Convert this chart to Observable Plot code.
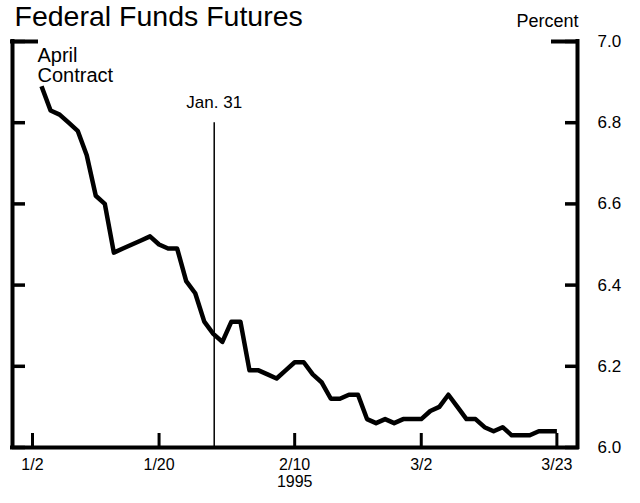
<!DOCTYPE html>
<html>
<head>
<meta charset="utf-8">
<script src="https://cdn.jsdelivr.net/npm/d3@7"></script>
<script src="https://cdn.jsdelivr.net/npm/@observablehq/plot@0.6"></script>
<style>
  body { margin: 0; background: #fff; }
  #chart { width: 640px; height: 503px; }
</style>
</head>
<body>
<div id="chart"></div>
<script>
// ---- Data ----
const title = "Federal Funds Futures";
const unitLabel = "Percent";
const seriesLabel = "April\nContract";

// business days, 1995 (MM-DD)
const dates = [
  "01-03","01-04","01-05","01-06","01-09","01-10","01-11","01-12","01-13",
  "01-16","01-17","01-18","01-19","01-20","01-23","01-24","01-25","01-26","01-27",
  "01-30","01-31","02-01","02-02","02-03","02-06","02-07","02-08","02-09","02-10",
  "02-13","02-14","02-15","02-16","02-17","02-20","02-21","02-22","02-23","02-24",
  "02-27","02-28","03-01","03-02","03-03","03-06","03-07","03-08","03-09","03-10",
  "03-13","03-14","03-15","03-16","03-17","03-20","03-21","03-22","03-23"
];
// April contract implied rate, percent
const rates = [
  6.89, 6.83, 6.82, 6.80, 6.78, 6.72, 6.62, 6.60, 6.48,
  6.49, 6.50, 6.51, 6.52, 6.50, 6.49, 6.49, 6.41, 6.38, 6.31,
  6.28, 6.26, 6.31, 6.31, 6.19, 6.19, 6.18, 6.17, 6.19, 6.21,
  6.21, 6.18, 6.16, 6.12, 6.12, 6.13, 6.13, 6.07, 6.06, 6.07,
  6.06, 6.07, 6.07, 6.07, 6.09, 6.10, 6.13, 6.10, 6.07, 6.07,
  6.05, 6.04, 6.05, 6.03, 6.03, 6.03, 6.04, 6.04, 6.04
];

const xTickDates = ["01-02", "01-20", "02-10", "03-02", "03-23"];
const xTickLabels = ["1/2", "1/20", "2/10\n1995", "3/2", "3/23"];
const yTicks = [6.0, 6.2, 6.4, 6.6, 6.8, 7.0];

const eventLabel = "Jan. 31";
const eventDay = 20.1;          // business-day position of the marker as drawn
const eventTop = 6.8;           // top of the marker line, percent

// ---- helpers ----
const FONT = "'Liberation Sans', Arial, Helvetica, sans-serif";
function bizIndex(md) { // weekdays elapsed since Mon 1995-01-02
  const [m, d] = md.split("-").map(Number);
  const days = Math.round((Date.UTC(1995, m - 1, d) - Date.UTC(1995, 0, 2)) / 864e5);
  return Math.floor(days / 7) * 5 + Math.min(days % 7, 5);
}
const data = dates.map((d, i) => ({day: bizIndex(d), rate: rates[i]}));
const xTicks = xTickDates.map(bizIndex);
const labelOf = new Map(xTicks.map((t, i) => [t, xTickLabels[i]]));
const xDomain = [-2.21, 60.28];

const chart = Plot.plot({
  width: 640,
  height: 503,
  marginLeft: 12,
  marginRight: 63,
  marginTop: 41,
  marginBottom: 56,
  style: {fontFamily: FONT, color: "#000", background: "#fff", overflow: "visible"},
  x: {domain: xDomain, label: null},
  y: {domain: [6, 7], label: null},
  marks: [
    // frame pieces
    Plot.ruleX(xDomain, {stroke: "#000", strokeWidth: 4, strokeLinecap: "square"}),
    Plot.ruleY([6], {stroke: "#000", strokeWidth: 4, strokeLinecap: "square"}),
    Plot.ruleY([7], {stroke: "#000", strokeWidth: 4, strokeLinecap: "square", insetRight: 541}),
    Plot.ruleY([7], {stroke: "#000", strokeWidth: 4, strokeLinecap: "square", insetLeft: 541}),
    // inward ticks
    Plot.axisY(yTicks, {anchor: "left", tickSize: 13, dx: 13, strokeWidth: 3.5, fill: "none", label: null}),
    Plot.axisY(yTicks, {anchor: "right", tickSize: 13, dx: -13, strokeWidth: 3.5, fill: "none", label: null}),
    Plot.axisY(yTicks, {anchor: "right", tickSize: 0, tickPadding: 20, fontSize: 17,
      tickFormat: d3.format(".1f"), label: null}),
    Plot.axisX(xTicks, {anchor: "bottom", tickSize: 14, dy: -14, strokeWidth: 3, fill: "none", label: null}),
    Plot.axisX(xTicks, {anchor: "bottom", tickSize: 0, tickPadding: 11, fontSize: 16,
      lineHeight: 1.05, tickFormat: (d) => labelOf.get(d), label: null}),
    // event marker
    Plot.ruleX([eventDay], {y1: 6, y2: eventTop, stroke: "#000", strokeWidth: 1.5}),
    Plot.text([eventLabel], {x: eventDay, y: eventTop, dy: -15, lineAnchor: "bottom",
      textAnchor: "middle", fontSize: 17, fill: "#000"}),
    // series
    Plot.line(data, {x: "day", y: "rate", stroke: "#000", strokeWidth: 4.5,
      strokeLinejoin: "round", strokeLinecap: "butt"}),
    // labels
    Plot.text([seriesLabel], {frameAnchor: "top-left", dx: 25, dy: 6, lineAnchor: "top",
      textAnchor: "start", fontSize: 20, lineHeight: 1.0, fill: "#000"}),
    Plot.text([title], {frameAnchor: "top-left", dx: 2, dy: -16, lineAnchor: "bottom",
      textAnchor: "start", fontSize: 28.5, fill: "#000"}),
    Plot.text([unitLabel], {frameAnchor: "top-right", dx: 1, dy: -15, lineAnchor: "bottom",
      textAnchor: "end", fontSize: 18, fill: "#000"})
  ]
});
document.getElementById("chart").appendChild(chart);
</script>
</body>
</html>
